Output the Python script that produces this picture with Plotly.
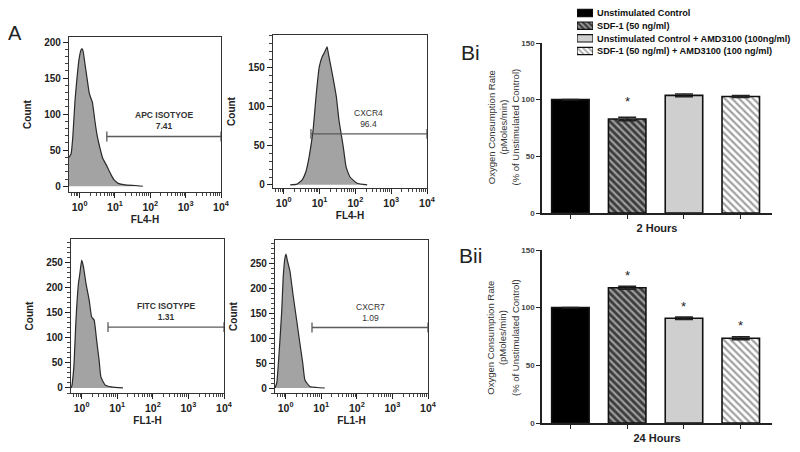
import plotly.graph_objects as go

# ---------------- Panel A: flow cytometry histograms ----------------
# x values are log10(fluorescence), y values are event counts
apc_iso_log = [-0.30, -0.24, -0.19, -0.13, -0.07, -0.02, 0.04, 0.07, 0.10, 0.15, 0.21, 0.27, 0.32,
               0.36, 0.44, 0.49, 0.58, 0.66, 0.75, 0.80, 0.89, 0.97, 1.09, 1.28, 1.57, 1.79]
apc_iso_count = [40, 45, 70, 119, 152, 175, 189, 191, 187, 170, 150, 130, 122,
                 117, 88, 72, 52, 38, 30, 25, 16, 9, 4, 2, 1, 0]

cxcr4_log = [0.18, 0.37, 0.51, 0.62, 0.71, 0.82, 0.90, 0.99, 1.07, 1.13, 1.18, 1.21, 1.24,
             1.29, 1.37, 1.47, 1.54, 1.66, 1.74, 1.85, 2.05, 2.33]
cxcr4_count = [0, 1, 6, 17, 36, 70, 112, 150, 163, 168, 173, 176, 169,
               157, 138, 112, 83, 49, 23, 10, 2, 0]

fitc_iso_log = [-0.30, -0.28, -0.22, -0.16, -0.09, -0.05, 0.00, 0.05, 0.12, 0.21, 0.28, 0.35,
                0.42, 0.49, 0.54, 0.66, 0.84, 1.16]
fitc_iso_count = [0, 3, 42, 135, 208, 228, 254, 241, 208, 175, 141, 135,
                  95, 55, 22, 6, 2, 0]

cxcr7_log = [-0.30, -0.25, -0.18, -0.11, -0.07, -0.02, 0.01, 0.05, 0.12, 0.21, 0.31, 0.40,
             0.48, 0.54, 0.68, 0.87, 1.10]
cxcr7_count = [0, 10, 75, 155, 221, 260, 268, 254, 234, 185, 135, 89,
               50, 16, 3, 1, 0]

hist_logs = [apc_iso_log, cxcr4_log, fitc_iso_log, cxcr7_log]
hist_counts = [apc_iso_count, cxcr4_count, fitc_iso_count, cxcr7_count]
hist_names = ["APC ISOTYOE", "CXCR4", "FITC ISOTYPE", "CXCR7"]
gate_pct = ["7.41", "96.4", "1.31", "1.09"]
gate_start_log = [0.77, 0.76, 0.74, 0.74]
gate_end_log = [4.0, 4.0, 4.0, 4.0]
gate_count = [69, 65, 121, 121]
hist_channel = ["FL4-H", "FL4-H", "FL1-H", "FL1-H"]
count_ticks = [[0, 50, 100, 150, 200], [0, 50, 100, 150],
               [0, 50, 100, 150, 200, 250], [0, 50, 100, 150, 200, 250]]
decade_ticks = [1, 10, 100, 1000, 10000]
decade_labels = ["10<sup>0</sup>", "10<sup>1</sup>", "10<sup>2</sup>", "10<sup>3</sup>", "10<sup>4</sup>"]

# ---------------- Panel B: oxygen consumption bar charts ----------------
conditions = ["Unstimulated Control", "SDF-1 (50 ng/ml)",
              "Unstimulated Control + AMD3100 (100ng/ml)",
              "SDF-1 (50 ng/ml) + AMD3100 (100 ng/ml)"]
ocr_2h = [100, 83, 103.8, 102.8]
ocr_2h_err = [0, 1.5, 1.2, 0.8]
sig_2h = ["", "*", "", ""]
ocr_24h = [100, 117.3, 90.8, 73.5]
ocr_24h_err = [0, 1.2, 1.0, 1.2]
sig_24h = ["", "*", "*", "*"]
bar_ticks = [0, 50, 100, 150]
ocr_title = "Oxygen Consumption Rate<br>(pMoles/min)<br>(% of Unstimulated Control)"

# ---------------- styling / geometry ----------------
FONT = "Liberation Sans"
OFF = 8                 # page body margin of the exported html
W, H = 800 - OFF, 452 - OFF


def px_x(a, b):
    return [(a - OFF) / W, (b - OFF) / W]


def px_y(top, bottom):
    return [1 - (bottom - OFF) / H, 1 - (top - OFF) / H]


def pt(x, y):
    return (x - OFF) / W, 1 - (y - OFF) / H


pat_shape = ["", "\\", "", "\\"]
pat_bg = ["#000000", "#3c3c3c", "#cfcfcf", "#ffffff"]
pat_fg = ["#000000", "#a8a8a8", "#cfcfcf", "#111111"]
bar_colors = ["#000000", "#3c3c3c", "#cfcfcf", "#ffffff"]

fig = go.Figure()

hist_xdom = [px_x(69, 221), px_x(273, 427), px_x(71, 224), px_x(275, 428)]
hist_ydom = [px_y(37, 192), px_y(35, 188), px_y(239, 393), px_y(240, 393)]
hist_yrange = [[-8, 207], [-4, 191], [-10, 296], [-10, 296]]

layout = dict(width=W, height=H, margin=dict(l=0, r=0, t=0, b=0, pad=0),
              paper_bgcolor="white", plot_bgcolor="white", showlegend=False,
              font=dict(family=FONT, size=10, color="#222"))
annotations = []

for i in range(4):
    n = i + 1
    xa = "x" if n == 1 else f"x{n}"
    ya = "y" if n == 1 else f"y{n}"
    fig.add_trace(go.Scatter(
        x=[10 ** v for v in hist_logs[i]], y=hist_counts[i], xaxis=xa, yaxis=ya,
        mode="lines", fill="tozeroy", fillcolor="#a3a3a3",
        line=dict(color="#2a2a2a", width=1.2, shape="spline", smoothing=0.4),
        hoverinfo="skip"))
    fig.add_trace(go.Scatter(
        x=[10 ** gate_start_log[i], 10 ** gate_end_log[i]], y=[gate_count[i], gate_count[i]],
        xaxis=xa, yaxis=ya, mode="lines+markers", cliponaxis=False,
        line=dict(color="#5a5a5a", width=1.3),
        marker=dict(symbol="line-ns", size=7, line=dict(color="#5a5a5a", width=1.3)),
        hoverinfo="skip"))
    bold_label = i in (0, 2)
    annotations.append(dict(
        x=(gate_start_log[i] + gate_end_log[i]) / 2, y=gate_count[i], xref=xa, yref=ya,
        text=f"{hist_names[i]}<br>{gate_pct[i]}", showarrow=False, xanchor="center",
        yanchor="bottom", yshift=3,
        font=dict(size=8.5, color="#333", weight="bold" if bold_label else "normal")))
    xkey = "xaxis" if n == 1 else f"xaxis{n}"
    ykey = "yaxis" if n == 1 else f"yaxis{n}"
    layout[xkey] = dict(
        domain=hist_xdom[i], anchor=ya, type="log", range=[-0.3, 4.0], automargin=False,
        tickmode="array", tickvals=decade_ticks, ticktext=decade_labels,
        ticks="outside", ticklen=5, tickwidth=1.3, tickcolor="#222",
        minor=dict(ticks="outside", ticklen=3, tickcolor="#444", dtick="D1", showgrid=False),
        showline=True, linecolor="#333", linewidth=1.2, mirror=True,
        showgrid=False, zeroline=False,
        tickfont=dict(size=10.5, color="#222", weight="bold"),
        title=dict(text=hist_channel[i], standoff=4,
                   font=dict(size=10, color="#222", weight="bold")))
    layout[ykey] = dict(
        domain=hist_ydom[i], anchor=xa, range=hist_yrange[i], automargin=False,
        tickmode="array", tickvals=count_ticks[i],
        ticks="outside", ticklen=5, tickwidth=1.3, tickcolor="#222",
        minor=dict(ticks="outside", ticklen=3, tickcolor="#444", dtick=10, showgrid=False),
        showline=True, linecolor="#333", linewidth=1.2, mirror=True,
        showgrid=False, zeroline=False,
        tickfont=dict(size=10, color="#222", weight="bold"),
        title=dict(text="Count", standoff=10,
                   font=dict(size=10, color="#222", weight="bold")))

# bar charts
bar_sets = [(ocr_2h, ocr_2h_err, sig_2h, "2 Hours", px_y(43, 213), 16, (503, 127.5)),
            (ocr_24h, ocr_24h_err, sig_24h, "24 Hours", px_y(250, 423), 11, (503, 338))]
for j, (vals, errs, sig, ttl, ydom, star_shift, title_pos) in enumerate(bar_sets):
    n = 5 + j
    xa, ya = f"x{n}", f"y{n}"
    fig.add_trace(go.Bar(
        x=conditions, y=vals, xaxis=xa, yaxis=ya, width=0.66,
        marker=dict(color=bar_colors, line=dict(color="#111", width=1.6),
                    pattern=dict(shape=pat_shape, bgcolor=pat_bg, fgcolor=pat_fg,
                                 size=5, solidity=0.45)),
        error_y=dict(type="data", array=errs, visible=True, color="#222",
                     thickness=1.6, width=9),
        hoverinfo="skip"))
    for c, v, e, s in zip(conditions, vals, errs, sig):
        if s:
            annotations.append(dict(x=c, y=v + e, xref=xa, yref=ya, text=s, showarrow=False,
                                    xanchor="center", yanchor="middle", yshift=star_shift,
                                    font=dict(size=13, color="#222")))
    tx, ty = pt(*title_pos)
    annotations.append(dict(x=tx, y=ty, xref="paper", yref="paper", text=ocr_title,
                            textangle=-90, showarrow=False, xanchor="center", yanchor="middle",
                            font=dict(size=9.5, color="#333")))
    layout[f"xaxis{n}"] = dict(
        domain=px_x(542, 772), anchor=ya, type="category", range=[-0.5, 3.55], automargin=False,
        showticklabels=False, ticks="outside", ticklen=4, tickwidth=1.3, tickcolor="#222",
        showline=True, linecolor="#222", linewidth=1.5, showgrid=False, zeroline=False,
        title=dict(text=ttl, standoff=7, font=dict(size=11, color="#222", weight="bold")))
    layout[f"yaxis{n}"] = dict(
        domain=ydom, anchor=xa, range=[0, 150], tickmode="array", tickvals=bar_ticks,
        automargin=False,
        ticks="outside", ticklen=4, tickwidth=1.3, tickcolor="#222",
        showline=True, linecolor="#222", linewidth=1.5, showgrid=False, zeroline=False,
        tickfont=dict(size=8, color="#444", weight="bold"))

# legend built as a tiny swatch chart with labels on the right
fig.add_trace(go.Bar(
    x=[1, 1, 1, 1], y=conditions, orientation="h", xaxis="x7", yaxis="y7", width=0.58,
    marker=dict(color=bar_colors, line=dict(color="#111", width=1.2),
                pattern=dict(shape=pat_shape, bgcolor=pat_bg, fgcolor=pat_fg,
                             size=4, solidity=0.45)),
    hoverinfo="skip"))
layout["xaxis7"] = dict(domain=px_x(577, 593), anchor="y7", range=[0, 1], visible=False,
                        automargin=False)
layout["yaxis7"] = dict(domain=px_y(8, 57.3), anchor="x7", side="right", type="category",
                        tickmode="array", tickvals=conditions, ticktext=conditions,
                        range=[3.5, -0.397], showline=False, ticks="", showgrid=False,
                        ticklabelstandoff=3, automargin=False,
                        tickfont=dict(size=9.2, color="#111", weight="bold"))

# panel letters
for txt, (cx, cy), fs in [("A", (15, 33), 20), ("Bi", (470, 53), 21), ("Bii", (470, 255), 21)]:
    px_, py_ = pt(cx, cy)
    annotations.append(dict(x=px_, y=py_, xref="paper", yref="paper", text=txt,
                            showarrow=False, xanchor="center", yanchor="middle",
                            font=dict(size=fs, color="#222")))
layout["annotations"] = annotations
fig.update_layout(**layout)
fig.write_html("out.html")
